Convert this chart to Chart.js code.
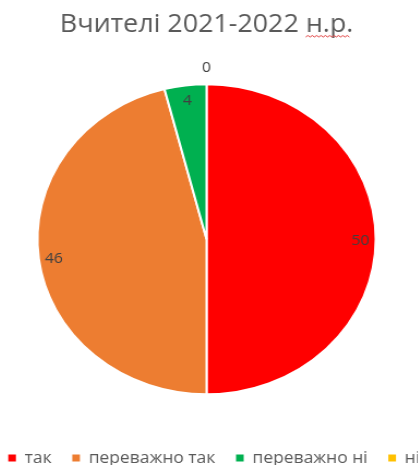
<!DOCTYPE html>
<html>
<head>
<meta charset="utf-8">
<script src="https://cdn.jsdelivr.net/npm/chart.js@4/dist/chart.umd.min.js"></script>
<style>
html,body{margin:0;padding:0;background:#fff;overflow:hidden;width:418px;height:465px;position:relative;}
#wrap{position:absolute;left:-21.6px;top:0;transform:scaleX(1.091);transform-origin:0 0;}
</style>
</head>
<body>
<div id="wrap"><canvas id="c" width="440" height="465"></canvas></div>
<script>
const titleText = 'Вчителі 2021-2022 н.р.';
const categories = ['так', 'переважно так', 'переважно ні', 'ні'];
const values = [50, 46, 4, 0];
const colors = ['#FF0000', '#ED7D31', '#00B050', '#FFC000'];

const FONT = "'Open Sans', sans-serif";

const labelPlugin = {
  id: 'sliceLabels',
  afterLayout(chart) {
    // legend row in the reference sits slightly right of the pie centre
    if (chart.legend) {
      chart.legend.left += 7;
      chart.legend.right += 7;
    }
  },
  afterDatasetsDraw(chart) {
    const ctx = chart.ctx;
    const meta = chart.getDatasetMeta(0);
    ctx.save();
    ctx.font = '14.5px ' + FONT;
    ctx.fillStyle = '#404040';
    ctx.textAlign = 'center';
    ctx.textBaseline = 'middle';
    meta.data.forEach((arc, i) => {
      const p = arc.getProps(['x', 'y', 'startAngle', 'endAngle', 'outerRadius'], true);
      const mid = (p.startAngle + p.endAngle) / 2;
      const v = chart.data.datasets[0].data[i];
      const r = v === 0 ? p.outerRadius * 1.12 : p.outerRadius * 0.91;
      ctx.fillText(String(v), p.x + Math.cos(mid) * r, p.y + Math.sin(mid) * r + 2);
    });
    ctx.restore();
  },
  afterDraw(chart) {
    // spell-check style wavy underline under "н.р."
    const t = chart.titleBlock;
    if (!t) return;
    const ctx = chart.ctx;
    ctx.save();
    ctx.font = '24.6px ' + FONT;
    const full = ctx.measureText(titleText).width;
    const tail = ctx.measureText('н.р.').width;
    const cx = (t.left + t.right) / 2;
    const x1 = cx + full / 2 - tail;
    const x2 = cx + full / 2 - 3;
    const y = 37;
    ctx.strokeStyle = '#E04040';
    ctx.lineWidth = 1;
    ctx.beginPath();
    let up = true;
    ctx.moveTo(x1, y);
    for (let x = x1 + 2; x <= x2; x += 2) {
      ctx.lineTo(x, up ? y - 1.5 : y);
      up = !up;
    }
    ctx.stroke();
    ctx.restore();
  }
};

const baseGen = Chart.overrides.pie.plugins.legend.labels.generateLabels;

new Chart(document.getElementById('c'), {
  type: 'pie',
  data: {
    labels: categories,
    datasets: [{
      data: values,
      backgroundColor: colors,
      borderColor: '#FFFFFF',
      borderWidth: 2,
      radius: 155
    }]
  },
  options: {
    responsive: false,
    animation: false,
    devicePixelRatio: 1,
    layout: { padding: { left: 0, right: 21, top: 0, bottom: -11 } },
    plugins: {
      title: {
        display: true,
        text: titleText,
        color: '#595959',
        font: { family: FONT, size: 24.6, weight: 'normal' },
        padding: { top: 10, bottom: 8 }
      },
      legend: {
        position: 'bottom',
        labels: {
          color: '#595959',
          font: { family: FONT, size: 16 },
          boxWidth: 7,
          boxHeight: 7,
          padding: 19,
          generateLabels(chart) {
            return baseGen(chart).map(it => Object.assign(it, { lineWidth: 0, strokeStyle: it.fillStyle }));
          }
        }
      },
      tooltip: { enabled: false }
    }
  },
  plugins: [labelPlugin]
});
</script>
</body>
</html>
